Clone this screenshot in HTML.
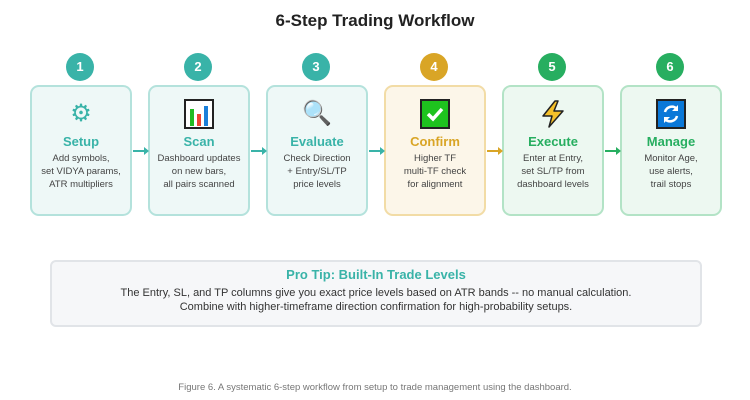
<!DOCTYPE html>
<html><head><style>
body{margin:0;width:750px;height:400px;background:#fff;font-family:"Liberation Sans",sans-serif;position:relative;overflow:hidden}
.t{position:absolute;left:0;width:750px;text-align:center;font-weight:bold;font-size:17px;top:11px;color:#222}
.c{position:absolute;width:28px;height:28px;border-radius:50%;color:#fff;font-weight:bold;font-size:13px;text-align:center;line-height:28px;top:53px}
.b{position:absolute;top:85px;width:98px;height:127px;border:2px solid;border-radius:9px;text-align:center}
.ic{height:30px;margin-top:12px;font-size:24px;line-height:30px}
.h{font-weight:bold;font-size:13px;margin-top:5px}
.d{font-size:9.5px;color:#444;line-height:13px;margin-top:3px}
.a{position:absolute;top:150px;height:2px;width:14px}
.a:after{content:"";position:absolute;right:-2px;top:-3px;border-left:5px solid;border-left-color:inherit;border-top:4px solid transparent;border-bottom:4px solid transparent}
.tip{position:absolute;left:50px;top:260px;width:648px;height:63px;border:2px solid #e1e4e8;border-radius:6px;background:#f6f7f9;text-align:center}
.cap{position:absolute;top:382px;left:0;width:750px;text-align:center;font-size:9.5px;color:#777}
</style></head><body>
<div class="t">6-Step Trading Workflow</div>

<div class="c" style="left:66px;background:#39b3a8">1</div>
<div class="c" style="left:184px;background:#39b3a8">2</div>
<div class="c" style="left:302px;background:#39b3a8">3</div>
<div class="c" style="left:420px;background:#d9a526">4</div>
<div class="c" style="left:538px;background:#27ae60">5</div>
<div class="c" style="left:656px;background:#27ae60">6</div>

<div class="b" style="left:30px;border-color:#b4e2dc;background:#eef8f7"><div class="ic" style="color:#39b3a8">⚙</div><div class="h" style="color:#39b3a8">Setup</div><div class="d">Add symbols,<br>set VIDYA params,<br>ATR multipliers</div></div>
<div class="b" style="left:148px;border-color:#b4e2dc;background:#eef8f7"><div class="ic"><svg width="30" height="30"><rect x="1" y="1" width="28" height="28" fill="#fff" stroke="#222" stroke-width="2"/><rect x="6" y="10" width="4" height="17" fill="#22bb22"/><rect x="13" y="15" width="4" height="12" fill="#e43"/><rect x="20" y="7" width="4" height="20" fill="#1a7fd9"/></svg></div><div class="h" style="color:#39b3a8">Scan</div><div class="d">Dashboard updates<br>on new bars,<br>all pairs scanned</div></div>
<div class="b" style="left:266px;border-color:#b4e2dc;background:#eef8f7"><div class="ic">🔍</div><div class="h" style="color:#39b3a8">Evaluate</div><div class="d">Check Direction<br>+ Entry/SL/TP<br>price levels</div></div>
<div class="b" style="left:384px;border-color:#f2dca6;background:#fcf6e9"><div class="ic"><svg width="30" height="30"><rect x="1" y="1" width="28" height="28" fill="#1ec31e" stroke="#222" stroke-width="2"/><path d="M8 15l5 5 9-10" stroke="#fff" stroke-width="3.5" fill="none"/></svg></div><div class="h" style="color:#d9a526">Confirm</div><div class="d">Higher TF<br>multi-TF check<br>for alignment</div></div>
<div class="b" style="left:502px;border-color:#b3e3c6;background:#edf8f1"><div class="ic"><svg width="30" height="30"><path d="M17 2L5 17h9l-3 11 14-16h-9l4-10z" fill="#f5c02a" stroke="#222" stroke-width="1.5" stroke-linejoin="round"/></svg></div><div class="h" style="color:#27ae60">Execute</div><div class="d">Enter at Entry,<br>set SL/TP from<br>dashboard levels</div></div>
<div class="b" style="left:620px;border-color:#b3e3c6;background:#edf8f1"><div class="ic"><svg width="30" height="30"><rect x="1" y="1" width="28" height="28" fill="#0a78d8" stroke="#222" stroke-width="2"/><path d="M9 13a7 7 0 0 1 12-3M21 17a7 7 0 0 1-12 3" stroke="#fff" stroke-width="2.5" fill="none"/><path d="M22 6v6h-6z" fill="#fff"/><path d="M8 24v-6h6z" fill="#fff"/></svg></div><div class="h" style="color:#27ae60">Manage</div><div class="d">Monitor Age,<br>use alerts,<br>trail stops</div></div>

<div class="a" style="left:133px;background:#39b3a8;border-color:#39b3a8"></div>
<div class="a" style="left:251px;background:#39b3a8;border-color:#39b3a8"></div>
<div class="a" style="left:369px;background:#39b3a8;border-color:#39b3a8"></div>
<div class="a" style="left:487px;background:#d9a526;border-color:#d9a526"></div>
<div class="a" style="left:605px;background:#27ae60;border-color:#27ae60"></div>

<div class="tip"><div style="font-weight:bold;color:#39b3a8;font-size:13px;margin-top:5px">Pro Tip: Built-In Trade Levels</div><div style="font-size:11px;color:#333;line-height:14px;margin-top:4px">The Entry, SL, and TP columns give you exact price levels based on ATR bands -- no manual calculation.<br>Combine with higher-timeframe direction confirmation for high-probability setups.</div></div>

<div class="cap">Figure 6. A systematic 6-step workflow from setup to trade management using the dashboard.</div>
</body></html>
